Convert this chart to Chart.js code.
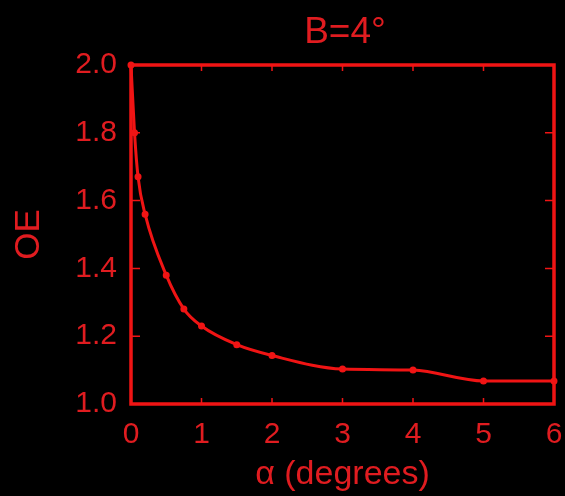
<!DOCTYPE html>
<html>
<head>
<meta charset="utf-8">
<script src="https://cdn.jsdelivr.net/npm/chart.js@4"></script>
<style>
  html, body { margin: 0; padding: 0; background: #000; }
  #wrap { width: 565px; height: 496px; }
</style>
</head>
<body>
<div id="wrap"><canvas id="c" width="565" height="496"></canvas></div>
<script>
// Oblateness enhancement versus alpha for B = 4 degrees
const alphaDeg = [0, 0.05, 0.1, 0.2, 0.5, 0.75, 1.0, 1.5, 2.0, 3.0, 4.0, 5.0, 6.0];
const oeValues = [2.0, 1.80, 1.67, 1.56, 1.38, 1.28, 1.23, 1.175, 1.143, 1.103, 1.100, 1.068, 1.068];
const xTicks = [0, 1, 2, 3, 4, 5, 6];
const yTicks = [1.0, 1.2, 1.4, 1.6, 1.8, 2.0];
const chartTitle = 'B=4\u00B0';

const RED = '#f01414';
const TEXT_RED = '#e01c20';
const FONT = '"Liberation Sans", Arial, Helvetica, sans-serif';

// Frame box, inward ticks and the title
const framePlugin = {
  id: 'frame',
  afterDatasetsDraw(chart) {
    const { ctx, chartArea: a, scales } = chart;
    ctx.save();
    ctx.strokeStyle = RED;
    ctx.lineWidth = 3.5;
    ctx.strokeRect(a.left, a.top, a.right - a.left, a.bottom - a.top);
    ctx.lineWidth = 1.5;
    ctx.beginPath();
    xTicks.forEach(v => {
      const px = scales.x.getPixelForValue(v);
      ctx.moveTo(px, a.bottom); ctx.lineTo(px, a.bottom - 6);
      ctx.moveTo(px, a.top); ctx.lineTo(px, a.top + 6);
    });
    yTicks.forEach(v => {
      const py = scales.y.getPixelForValue(v);
      ctx.moveTo(a.left, py); ctx.lineTo(a.left + 9, py);
      ctx.moveTo(a.right, py); ctx.lineTo(a.right - 9, py);
    });
    ctx.stroke();
    ctx.fillStyle = TEXT_RED;
    ctx.font = '37px ' + FONT;
    ctx.textAlign = 'center';
    ctx.textBaseline = 'middle';
    ctx.fillText(chartTitle, 345, 33);
    ctx.restore();
  }
};

new Chart(document.getElementById('c'), {
  type: 'line',
  data: {
    datasets: [{
      data: alphaDeg.map((a, i) => ({ x: a, y: oeValues[i] })),
      borderColor: RED,
      backgroundColor: RED,
      borderWidth: 3,
      pointRadius: 2,
      pointHoverRadius: 2,
      cubicInterpolationMode: 'monotone',
      clip: false
    }]
  },
  options: {
    responsive: false,
    animation: false,
    devicePixelRatio: 1,
    layout: { padding: { left: 0, right: 11, top: 65, bottom: 0 } },
    plugins: { legend: { display: false }, tooltip: { enabled: false }, title: { display: false } },
    scales: {
      x: {
        type: 'linear',
        min: 0, max: 6,
        afterBuildTicks: s => { s.ticks = xTicks.map(v => ({ value: v })); },
        afterFit: s => { s.height = 92; s.paddingLeft = 0; s.paddingRight = 0; },
        grid: { display: false, drawTicks: false },
        border: { display: false },
        ticks: { color: TEXT_RED, font: { family: FONT, size: 30 }, padding: 13, maxRotation: 0, callback: v => String(v) },
        title: { display: true, text: '\u03B1 (degrees)', color: TEXT_RED, font: { family: FONT, size: 34 }, padding: { top: 0, bottom: 1 } }
      },
      y: {
        type: 'linear',
        min: 1.0, max: 2.0,
        afterBuildTicks: s => { s.ticks = yTicks.map(v => ({ value: v })); },
        afterFit: s => { s.width = 131; s.paddingTop = 0; s.paddingBottom = 0; },
        grid: { display: false, drawTicks: false },
        border: { display: false },
        ticks: { color: TEXT_RED, font: { family: FONT, size: 30 }, padding: 14, callback: v => v.toFixed(1) },
        title: { display: true, text: 'OE', color: TEXT_RED, font: { family: FONT, size: 35 }, padding: { top: 8, bottom: 0 } }
      }
    }
  },
  plugins: [framePlugin]
});
</script>
</body>
</html>
